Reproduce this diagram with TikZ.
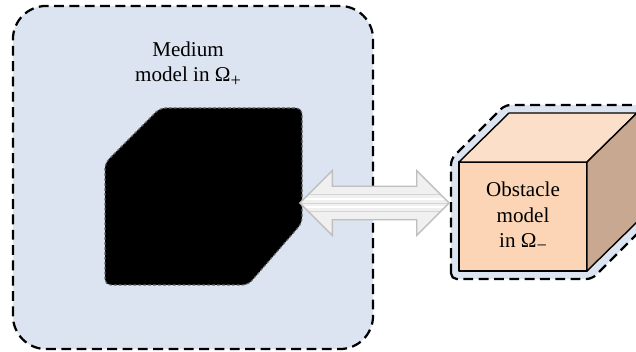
\documentclass[tikz,border=0pt]{standalone}
\usepackage{fontspec}
\setmainfont{Liberation Serif}
\usepackage{xcolor}
\usetikzlibrary{calc, shapes.arrows}
\definecolor{mediumblue}{HTML}{DBE4F0}
\definecolor{cubefront}{HTML}{FBD5B5}
\definecolor{cubetop}{HTML}{FCDFC8}
\definecolor{cubeside}{HTML}{C9A891}
\definecolor{linkgray}{HTML}{BFBFBF}
\definecolor{linkfill}{HTML}{F0F0F0}
\tikzstyle{plate}=[draw=black, fill=mediumblue, line width=1.6pt, dash pattern=on 7pt off 3.9pt]
\tikzstyle{modeltext}=[align=center, inner sep=0pt, font=\fontsize{15pt}{17.8pt}\selectfont]
% lowered subscript sign
\newcommand{\lowsign}[1]{{\fontsize{13pt}{13pt}\selectfont\raisebox{-0.55ex}{#1}}}

\begin{document}
\begin{tikzpicture}[x=0.025cm, y=-0.025cm]
\tikzset{cubeedge/.style={draw=black, line width=1pt, line join=round}}

\useasboundingbox (0,0) rectangle (636,352);
\clip (0,0) rectangle (636,352);


% Medium (outer domain)
\node[plate, rounded corners=0.83cm, minimum width=9cm, minimum height=8.575cm] (medium) at (193,177.5) {};
\node[modeltext] (mediumtext) at (188,64) {Medium\\model in Ω\lowsign{+}};

% inclusion cut out of the medium
\draw[fill=black, draw=black!60, line width=0.8pt, dash pattern=on 2pt off 1.5pt, rounded corners=4pt]
    (105,285) -- (105,163) -- (160,108) -- (302,108) -- (302,223) -- (248,285) -- cycle;
\coordinate (inclusion-e) at (300,203);

% Obstacle plate
\draw[plate, rounded corners=4pt] (451,279) -- (451,159) -- (505,105) -- (680,105) -- (680,191) -- (592,279) -- cycle;
\coordinate (plate-w) at (449,203);

% cube
\draw[cubeedge, fill=cubefront] (459,162) rectangle (587,271);
\draw[cubeedge, fill=cubetop] (459,162) -- (509,113) -- (637,113) -- (587,162) -- cycle;
\draw[cubeedge, fill=cubeside] (587,162) -- (637,113) -- (637,222) -- (587,271) -- cycle;
\node[modeltext] (obstacle) at (523,217) {Obstacle\\model\\in Ω\lowsign{−}};

% coupling arrow
\node[double arrow, draw=linkgray, fill=linkfill, line width=1pt, inner xsep=0pt, inner ysep=0.4cm,
      minimum height=3.725cm, double arrow head extend=0.39cm,
      path picture={
        \foreach \dy in {-5.7pt, 0pt, 5.7pt}
          \draw[black!17, line width=0.7pt] ([yshift=\dy]path picture bounding box.west) -- ([yshift=\dy]path picture bounding box.east);
        \foreach \dy in {-2.8pt, 2.8pt}
          \draw[white, line width=1.4pt] ([yshift=\dy]path picture bounding box.west) -- ([yshift=\dy]path picture bounding box.east);
      }] (link) at ($(inclusion-e)!0.5!(plate-w)$) {};

\end{tikzpicture}
\end{document}
